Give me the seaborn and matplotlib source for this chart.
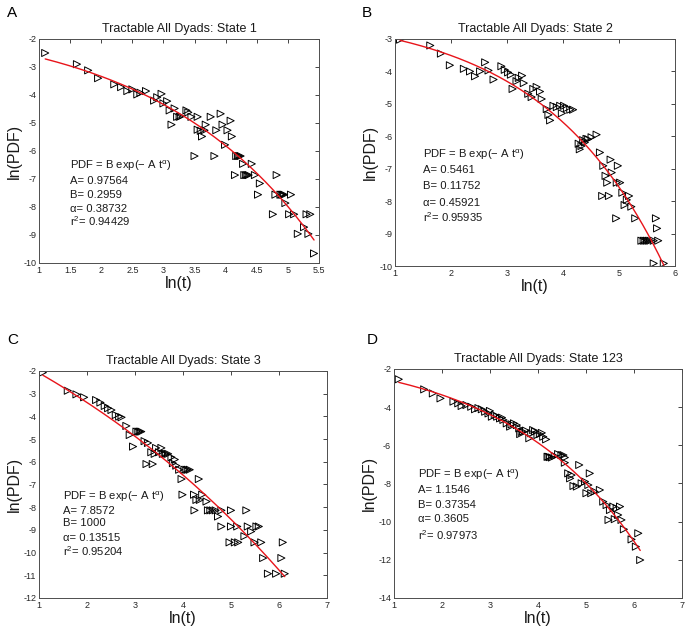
import numpy as np
import pandas as pd
import matplotlib
matplotlib.use("Agg")
import matplotlib.pyplot as plt
import matplotlib.transforms as mtransforms
import seaborn as sns

sns.set_theme(style="white")
plt.rcParams["font.family"] = ["Liberation Sans", "DejaVu Sans"]
plt.rcParams["mathtext.fontset"] = "custom"
plt.rcParams["mathtext.rm"] = "Liberation Sans"
plt.rcParams["mathtext.it"] = "Liberation Sans:italic"
plt.rcParams["mathtext.default"] = "regular"
plt.rcParams["axes.unicode_minus"] = False

# ---- State 1 ----
x1 = [1.10, 1.61, 1.79, 1.95, 2.21, 2.32, 2.42, 2.50, 2.58, 2.63, 2.72, 2.85, 2.90, 2.97,
      3.00, 3.06, 3.10, 3.13, 3.18, 3.22, 3.26, 3.28, 3.37, 3.40, 3.45, 3.50, 3.55, 3.55,
      3.60, 3.62, 3.66, 3.68, 3.76, 3.82, 3.85, 3.92, 3.95, 3.99, 4.03, 4.08, 4.10, 4.15,
      4.17, 4.20, 4.22, 4.24, 4.28, 4.30, 4.33, 4.35, 4.37, 4.42, 4.47, 4.52, 4.55, 4.76,
      4.80, 4.82, 4.88, 4.90, 4.92, 4.94, 4.96, 5.02, 5.05, 5.10, 5.16, 5.26, 5.30, 5.33,
      5.36, 5.42]
y1 = [-2.50, -2.90, -3.12, -3.40, -3.62, -3.72, -3.86, -3.80, -3.98, -3.92, -3.86, -4.20, -4.08, -3.96,
      -4.30, -4.22, -4.55, -5.06, -4.48, -4.78, -4.78, -4.76, -4.55, -4.62, -4.78, -6.18, -4.78, -5.24,
      -5.28, -5.48, -5.26, -5.06, -4.78, -6.18, -5.26, -4.67, -5.06, -5.78, -5.26, -4.92, -5.48, -6.86,
      -6.18, -6.18, -6.18, -6.18, -6.46, -6.86, -6.86, -6.86, -6.86, -6.46, -6.86, -7.56, -7.16, -8.26,
      -7.56, -6.86, -7.56, -7.56, -7.56, -7.56, -7.86, -8.26, -7.56, -8.26, -8.96, -8.72, -8.26, -8.96,
      -8.26, -9.66]
fit1 = dict(A=0.97564, B=0.2959, alpha=0.38732, r2=0.94429)

# ---- State 2 ----
x2 = [1.09, 1.63, 1.82, 1.98, 2.23, 2.34, 2.43, 2.52, 2.61, 2.67, 2.76, 2.90, 2.96, 3.02,
      3.07, 3.10, 3.17, 3.21, 3.27, 3.30, 3.38, 3.44, 3.47, 3.53, 3.59, 3.62, 3.71, 3.74,
      3.77, 3.83, 3.89, 3.95, 3.98, 4.02, 4.07, 4.13, 4.18, 4.28, 4.30, 4.33, 4.36, 4.39,
      4.42, 4.45, 4.51, 4.60, 4.66, 4.72, 4.76, 4.79, 4.70, 4.85, 4.87, 4.82, 4.98, 4.96,
      5.02, 5.06, 5.10, 5.14, 5.18, 5.22, 4.95, 5.29, 5.40, 5.44, 5.47, 5.50, 5.53, 5.56,
      5.62, 5.70, 5.66, 5.68, 5.62, 5.80]
y2 = [-3.02, -3.20, -3.45, -3.81, -3.92, -4.00, -4.15, -4.00, -3.72, -3.97, -4.25, -3.84, -3.95, -4.03,
      -4.10, -4.54, -4.30, -4.20, -4.13, -4.36, -4.69, -4.79, -4.54, -4.48, -4.62, -4.85, -5.16, -5.34,
      -5.51, -5.06, -5.10, -5.06, -5.29, -5.06, -5.13, -5.18, -5.18, -6.23, -6.40, -6.30, -6.12, -6.19,
      -6.08, -6.09, -6.03, -5.95, -6.50, -6.91, -7.22, -7.43, -7.84, -6.72, -7.12, -7.84, -6.91, -7.43,
      -7.43, -7.74, -8.12, -7.96, -7.84, -8.17, -8.53, -8.53, -9.22, -9.22, -9.22, -9.22, -9.22, -9.22,
      -9.22, -9.22, -8.53, -8.84, -9.92, -9.92]
fit2 = dict(A=0.5461, B=0.11752, alpha=0.45921, r2=0.95935)

# ---- State 3 ----
x3 = [1.08, 1.60, 1.78, 1.94, 2.19, 2.28, 2.37, 2.44, 2.51, 2.60, 2.67, 2.72, 2.82, 2.89,
      2.96, 3.03, 3.07, 3.10, 3.13, 3.20, 3.27, 3.24, 3.34, 3.37, 3.41, 3.44, 3.50, 3.55,
      3.58, 3.62, 3.65, 3.69, 3.76, 3.79, 3.83, 3.86, 3.92, 3.97, 3.99, 4.03, 4.07, 4.10,
      4.14, 4.23, 4.24, 4.28, 4.33, 4.35, 4.40, 4.49, 4.52, 4.57, 4.62, 4.68, 4.73, 4.80,
      4.80, 5.00, 5.00, 4.97, 5.08, 5.15, 5.13, 5.32, 5.28, 5.35, 5.42, 5.53, 5.58, 5.49,
      5.63, 5.67, 5.77, 5.94, 6.08, 6.05, 6.12]
y3 = [-2.07, -2.87, -3.03, -3.16, -3.28, -3.39, -3.54, -3.64, -3.72, -3.94, -4.01, -4.04, -4.42, -4.82,
      -5.33, -4.67, -4.67, -4.67, -4.67, -5.09, -5.17, -6.10, -5.58, -6.10, -5.65, -5.39, -5.58, -5.39,
      -5.65, -5.65, -5.65, -5.65, -5.80, -6.06, -5.90, -6.17, -6.35, -6.76, -7.45, -6.35, -6.35, -6.35,
      -6.35, -7.45, -8.14, -7.68, -6.76, -7.68, -7.45, -7.75, -8.14, -8.14, -8.14, -8.14, -8.41, -8.14,
      -8.85, -8.14, -8.85, -9.55, -9.55, -9.55, -8.85, -8.14, -9.28, -8.85, -9.07, -8.85, -8.85, -9.55,
      -9.55, -10.24, -10.93, -10.93, -9.55, -10.24, -10.93]
fit3 = dict(A=7.8572, B=1000, alpha=0.13515, r2=0.95204)

# ---- State 123 ----
x4 = [1.10, 1.63, 1.81, 1.97, 2.24, 2.34, 2.41, 2.51, 2.61, 2.69, 2.76, 2.83, 2.90, 2.97,
      3.00, 3.04, 3.10, 3.15, 3.21, 3.25, 3.28, 3.35, 3.42, 3.45, 3.50, 3.56, 3.61, 3.63,
      3.66, 3.69, 3.75, 3.82, 3.86, 3.90, 3.94, 3.99, 4.04, 4.08, 4.11, 4.17, 4.20, 4.22,
      4.25, 4.29, 4.35, 4.42, 4.49, 4.53, 4.56, 4.56, 4.63, 4.67, 4.70, 4.74, 4.81, 4.86,
      4.91, 4.98, 5.01, 5.05, 5.08, 5.11, 5.18, 5.29, 5.36, 5.43, 5.47, 5.50, 5.57, 5.60,
      5.64, 5.67, 5.71, 5.74, 5.79, 5.95, 6.04, 6.09, 6.13]
y4 = [-2.54, -3.07, -3.28, -3.54, -3.71, -3.80, -3.94, -3.89, -3.98, -4.11, -4.05, -4.11, -4.24, -4.33,
      -4.20, -4.50, -4.41, -4.50, -4.59, -4.55, -4.67, -4.85, -5.02, -4.90, -4.85, -4.94, -5.11, -5.41,
      -5.30, -5.28, -5.23, -5.63, -5.37, -5.20, -5.28, -5.46, -5.41, -5.35, -5.55, -5.69, -6.60, -6.60,
      -6.62, -6.64, -6.56, -6.46, -6.51, -6.51, -6.64, -6.91, -7.47, -7.73, -7.56, -8.13, -8.16, -7.03,
      -7.99, -7.90, -8.51, -8.08, -7.47, -8.51, -8.42, -8.34, -8.95, -9.13, -9.91, -9.39, -9.21, -9.87,
      -9.30, -9.65, -9.21, -9.91, -10.40, -10.93, -11.31, -10.61, -12.01]
fit4 = dict(A=1.1546, B=0.37354, alpha=0.3605, r2=0.97973)

titles = ["Tractable All Dyads: State 1", "Tractable All Dyads: State 2",
          "Tractable All Dyads: State 3", "Tractable All Dyads: State 123"]
letters = ["A", "B", "C", "D"]
xticks = [[1, 1.5, 2, 2.5, 3, 3.5, 4, 4.5, 5, 5.5], [1, 2, 3, 4, 5, 6],
          [1, 2, 3, 4, 5, 6, 7], [1, 2, 3, 4, 5, 6, 7]]
yticks = [list(range(-10, -1)), list(range(-10, -2)),
          list(range(-12, -1)), list(range(-14, -1, 2))]
xlims = [(1, 5.5), (1, 6), (1, 7), (1, 7)]
ylims = [(-10, -2), (-10, -3), (-12, -2), (-14, -2)]
# annotation line centres (data units)
text_x = [1.5, 1.5, 1.5, 1.5]
text_y = [[-6.6, -7.05, -7.55, -8.05, -8.55],
          [-6.63, -7.0, -7.5, -8.02, -8.53],
          [-7.6, -8.12, -8.64, -9.3, -9.98],
          [-7.64, -8.31, -9.08, -9.83, -10.76]]

xs = [x1, x2, x3, x4]
ys = [y1, y2, y3, y4]
fits = [fit1, fit2, fit3, fit4]

fig = plt.figure(figsize=(6.89, 6.29), dpi=100)
positions = [[0.0566, 0.5819, 0.4064, 0.3561],
             [0.5733, 0.5771, 0.4064, 0.3609],
             [0.0566, 0.0493, 0.4180, 0.3609],
             [0.5718, 0.0493, 0.4180, 0.3641]]
letter_pos = [(0.010, 0.990), (0.525, 0.990), (0.010, 0.470), (0.532, 0.470)]

for i in range(4):
    ax = fig.add_axes(positions[i])
    df = pd.DataFrame({"lnt": xs[i], "lnpdf": ys[i]})
    f = fits[i]
    xf = np.linspace(min(xs[i]), max(xs[i]), 300)
    fit_df = pd.DataFrame({"lnt": xf,
                           "lnpdf": np.log(f["B"]) - f["A"] * np.exp(xf) ** f["alpha"]})
    sns.scatterplot(data=df, x="lnt", y="lnpdf", marker=">", s=26, facecolor="none",
                    edgecolor="black", linewidth=0.7, ax=ax, zorder=2)
    sns.lineplot(data=fit_df, x="lnt", y="lnpdf", color="#e8141a", linewidth=1.0,
                 estimator=None, sort=False, ax=ax, zorder=3)
    ax.set_xlim(*xlims[i])
    ax.set_ylim(*ylims[i])
    ax.set_xticks(xticks[i])
    ax.set_xticklabels(["%g" % v for v in xticks[i]])
    ax.set_yticks(yticks[i])
    ax.set_yticklabels(["%g" % v for v in yticks[i]])
    ax.tick_params(direction="in", length=3, width=0.6, labelsize=6.5, colors="0.15",
                   top=True, right=True, pad=2)
    for s in ax.spines.values():
        s.set_color("0.3")
        s.set_linewidth(0.7)
    ax.set_xlabel("ln(t)", fontsize=11.5, color="0.1", labelpad=1)
    ax.set_ylabel("ln(PDF)", fontsize=11.5, color="0.1", labelpad=1)
    ax.set_title(titles[i], fontsize=9, color="0.1", pad=5)

    lines = ["PDF = B exp(\u2212 A t$^{\\alpha}$)",
             "A= %g" % f["A"],
             "B= %g" % f["B"],
             "\u03b1= %g" % f["alpha"],
             "r$^2$= %g" % f["r2"]]
    for k, t in enumerate(lines):
        # baseline sits ~4 px below each line centre; formula line nudged up a touch
        dy = -1.5 if k == 0 else -4
        base = mtransforms.offset_copy(ax.transData, fig=fig, x=0, y=dy, units="dots")
        ax.text(text_x[i], text_y[i][k], t, fontsize=8.1, color="0.1",
                ha="left", va="baseline", transform=base)

    fig.text(letter_pos[i][0], letter_pos[i][1], letters[i], fontsize=11,
             color="black", ha="left", va="top")

fig.savefig("out.png", dpi=100)
